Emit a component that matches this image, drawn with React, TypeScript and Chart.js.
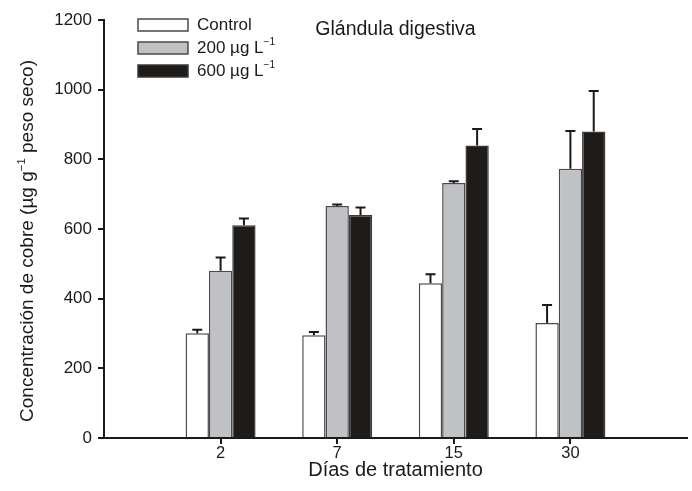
import React, { useEffect, useRef } from "react";
import { Chart, registerables } from "chart.js";

Chart.register(...registerables);

// ---- data ----
const categories = ["", "2", "7", "15", "30", ""];
const seriesNames = ["Control", "200 µg L", "600 µg L"];
const seriesSuperscripts = ["", "−1", "−1"];
const controlValues = [null, 301, 295, 444, 330, null];
const controlErrors = [null, 10, 9, 26, 52, null];
const c200Values = [null, 480, 666, 732, 773, null];
const c200Errors = [null, 38, 4, 5, 108, null];
const c600Values = [null, 611, 640, 840, 880, null];
const c600Errors = [null, 19, 22, 47, 116, null];
const yTicks = [0, 200, 400, 600, 800, 1000, 1200];
const chartTitle = "Glándula digestiva";
const xTitle = "Días de tratamiento";
const yTitleParts = [
  { text: "Concentración de cobre (µg g", sup: false },
  { text: "−1", sup: true },
  { text: " peso seco)", sup: false },
];

const FONT = "'Liberation Sans', Arial, Helvetica, sans-serif";
const fills = ["#ffffff", "#c0c1c5", "#1f1b19"];
const borders = ["#4a4a4a", "#4a4a4a", "#3a3a3a"];
const errorSets = [controlErrors, c200Errors, c600Errors];

function drawRich(ctx: CanvasRenderingContext2D, parts: { text: string; sup: boolean }[], x: number, y: number, size: number, align: "left" | "center") {
  const supSize = size * 0.6;
  let total = 0;
  const widths = parts.map((p) => {
    ctx.font = `${p.sup ? supSize : size}px ${FONT}`;
    const w = ctx.measureText(p.text).width;
    total += w;
    return w;
  });
  let cx = align === "center" ? x - total / 2 : x;
  ctx.textBaseline = "middle";
  ctx.textAlign = "left";
  parts.forEach((p, i) => {
    ctx.font = `${p.sup ? supSize : size}px ${FONT}`;
    ctx.fillText(p.text, cx, p.sup ? y - size * 0.32 : y);
    cx += widths[i];
  });
}

const decorPlugin = {
  id: "decor",
  afterDatasetsDraw(chart: any) {
    const ctx: CanvasRenderingContext2D = chart.ctx;
    const yScale = chart.scales.y;
    ctx.save();
    // error bars
    chart.data.datasets.forEach((ds: any, i: number) => {
      const meta = chart.getDatasetMeta(i);
      const errs = errorSets[i];
      meta.data.forEach((el: any, j: number) => {
        const v = ds.data[j];
        const e = errs[j];
        if (v == null || e == null) return;
        const yTop = yScale.getPixelForValue(v);
        const yErr = yScale.getPixelForValue(v + e);
        ctx.strokeStyle = "#1a1a1a";
        ctx.lineWidth = 2;
        ctx.beginPath();
        ctx.moveTo(el.x, yTop);
        ctx.lineTo(el.x, yErr);
        ctx.moveTo(el.x - 5, yErr);
        ctx.lineTo(el.x + 5, yErr);
        ctx.stroke();
      });
    });
    // title
    ctx.fillStyle = "#1a1a1a";
    ctx.font = `19.5px ${FONT}`;
    ctx.textAlign = "center";
    ctx.textBaseline = "middle";
    const area = chart.chartArea;
    ctx.fillText(chartTitle, (area.left + area.right) / 2, 30);
    // legend
    chart.data.datasets.forEach((ds: any, i: number) => {
      const rowY = 25 + i * 23;
      ctx.fillStyle = ds.backgroundColor;
      ctx.fillRect(138, rowY - 6, 50, 12);
      ctx.strokeStyle = ds.borderColor;
      ctx.lineWidth = 1.5;
      ctx.strokeRect(138, rowY - 6, 50, 12);
      ctx.fillStyle = "#1a1a1a";
      drawRich(ctx, [{ text: seriesNames[i], sup: false }, { text: seriesSuperscripts[i], sup: true }], 197, rowY, 17, "left");
    });
    // y title
    ctx.translate(28, 241);
    ctx.rotate(-Math.PI / 2);
    ctx.fillStyle = "#1a1a1a";
    drawRich(ctx, yTitleParts, 0, 0, 19, "center");
    ctx.restore();
  },
};

export default function App() {
  const ref = useRef<HTMLCanvasElement | null>(null);
  useEffect(() => {
    if (!ref.current) return;
    const valueSets = [controlValues, c200Values, c600Values];
    const chart = new Chart(ref.current, {
      type: "bar",
      data: {
        labels: categories,
        datasets: valueSets.map((vals, i) => ({
          label: seriesNames[i],
          data: vals,
          backgroundColor: fills[i],
          borderColor: borders[i],
          borderWidth: 1.5,
          categoryPercentage: 0.6,
          barPercentage: 1.0,
        })),
      },
      options: {
        animation: false,
        responsive: false,
        devicePixelRatio: 1,
        layout: { padding: { top: 20, right: 5, left: 0, bottom: 0 } },
        plugins: { legend: { display: false }, tooltip: { enabled: false }, title: { display: false } },
        scales: {
          x: {
            type: "category",
            offset: false,
            grid: {
              offset: false,
              drawOnChartArea: false,
              drawTicks: true,
              tickLength: 6,
              lineWidth: 2,
              color: (c: any) => (c.index === 0 || c.index === categories.length - 1 ? "rgba(0,0,0,0)" : "#1a1a1a"),
            },
            border: { display: true, color: "#1a1a1a", width: 2 },
            ticks: { color: "#1a1a1a", font: { size: 16.5, family: FONT }, padding: 0, maxRotation: 0, autoSkip: false },
            title: { display: true, text: xTitle, color: "#1a1a1a", font: { size: 20, family: FONT }, padding: { top: 0, bottom: 9 } },
            afterFit: (s: any) => { s.height = 53; },
          },
          y: {
            type: "linear",
            min: 0,
            max: 1200,
            afterBuildTicks: (s: any) => { s.ticks = yTicks.map((v) => ({ value: v })); },
            grid: { drawOnChartArea: false, drawTicks: true, tickLength: 6, lineWidth: 2, color: "#1a1a1a" },
            border: { display: true, color: "#1a1a1a", width: 2 },
            ticks: { color: "#1a1a1a", font: { size: 17, family: FONT }, padding: 6, callback: (v: any) => String(v) },
            afterFit: (s: any) => { s.width = 104; },
          },
        },
      },
      plugins: [decorPlugin],
    });
    return () => chart.destroy();
  }, []);
  return (
    <div style={{ position: "absolute", left: 0, top: 0, width: 692, height: 491, background: "#fff" }}>
      <canvas ref={ref} width={692} height={491} />
    </div>
  );
}
